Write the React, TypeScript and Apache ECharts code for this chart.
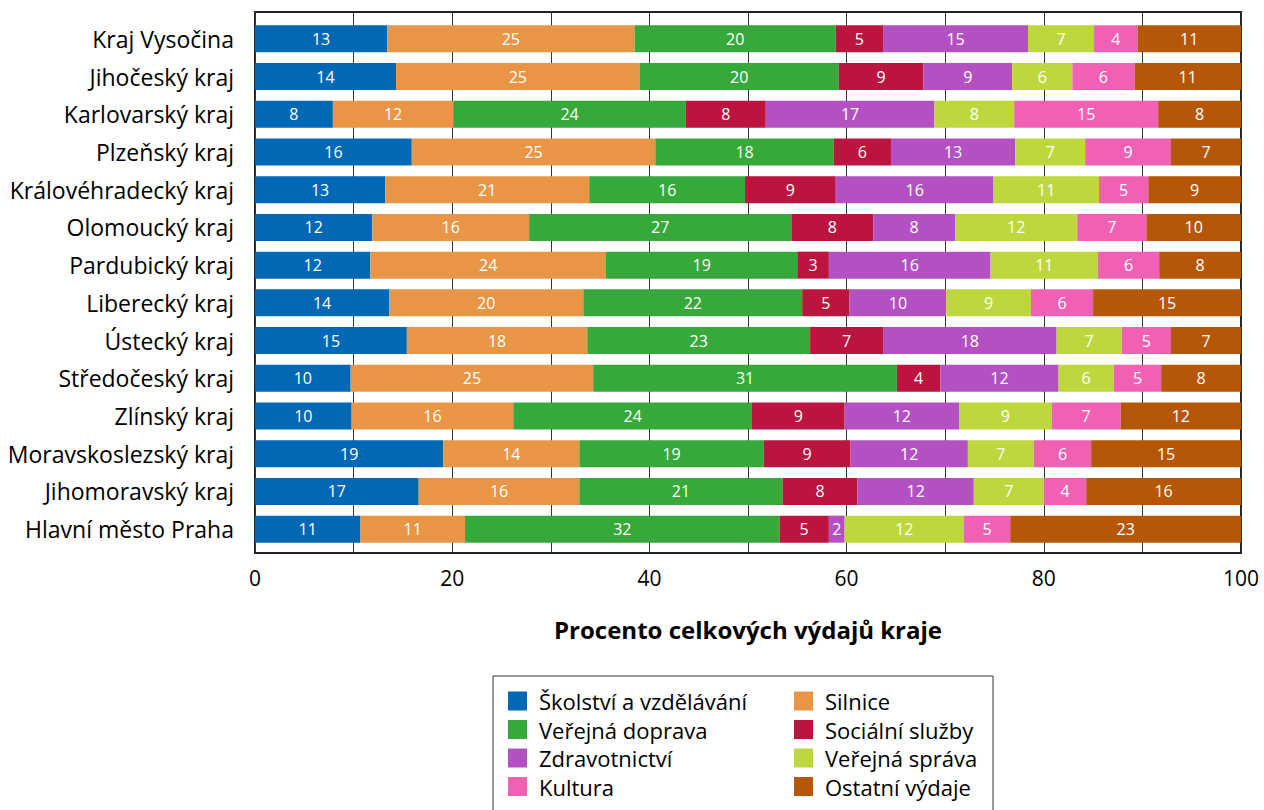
import React, { useEffect, useRef } from "react";
import * as echarts from "echarts";

const regions = [
  "Kraj Vysočina",
  "Jihočeský kraj",
  "Karlovarský kraj",
  "Plzeňský kraj",
  "Královéhradecký kraj",
  "Olomoucký kraj",
  "Pardubický kraj",
  "Liberecký kraj",
  "Ústecký kraj",
  "Středočeský kraj",
  "Zlínský kraj",
  "Moravskoslezský kraj",
  "Jihomoravský kraj",
  "Hlavní město Praha",
];

const skolstvi = [13.4, 14.3, 7.9, 15.9, 13.2, 11.9, 11.7, 13.6, 15.4, 9.7, 9.8, 19.1, 16.6, 10.7];
const silnice = [25.1, 24.7, 12.2, 24.7, 20.7, 15.9, 23.9, 19.7, 18.3, 24.6, 16.4, 13.8, 16.3, 10.6];
const doprava = [20.4, 20.2, 23.6, 18.1, 15.8, 26.6, 19.4, 22.2, 22.6, 30.8, 24.2, 18.7, 20.6, 31.9];
const socialni = [4.8, 8.6, 8.1, 5.8, 9.2, 8.3, 3.2, 4.8, 7.4, 4.4, 9.4, 8.8, 7.6, 5.0];
const zdravotnictvi = [14.7, 9.0, 17.1, 12.6, 16.0, 8.3, 16.4, 9.8, 17.6, 12.0, 11.6, 11.9, 11.8, 1.6];
const sprava = [6.7, 6.1, 8.1, 7.1, 10.7, 12.4, 10.9, 8.6, 6.6, 5.6, 9.4, 6.7, 7.1, 12.1];
const kultura = [4.4, 6.3, 14.6, 8.7, 5.0, 7.0, 6.2, 6.3, 5.0, 4.8, 7.0, 5.8, 4.3, 4.7];
const ostatni = [10.5, 10.8, 8.4, 7.1, 9.4, 9.6, 8.3, 15.0, 7.1, 8.1, 12.2, 15.2, 15.7, 23.4];

const seriesNames = [
  "Školství a vzdělávání",
  "Silnice",
  "Veřejná doprava",
  "Sociální služby",
  "Zdravotnictví",
  "Veřejná správa",
  "Kultura",
  "Ostatní výdaje",
];
const seriesData = [skolstvi, silnice, doprava, socialni, zdravotnictvi, sprava, kultura, ostatni];
const colors = ["#0068B4", "#E89645", "#36A93A", "#BB143E", "#B351C3", "#BED73D", "#F061B6", "#B55707"];

const legendLeft = ["Školství a vzdělávání", "Veřejná doprava", "Zdravotnictví", "Kultura"];
const legendRight = ["Silnice", "Sociální služby", "Veřejná správa", "Ostatní výdaje"];

const xTicks = [0, 20, 40, 60, 80, 100];
const FONT = "Open Sans";

export default function App() {
  const ref = useRef<HTMLDivElement>(null);
  useEffect(() => {
    if (!ref.current) return;
    const chart = echarts.init(ref.current, null, { renderer: "svg" });
    const legendCommon = {
      orient: "vertical",
      top: 690,
      padding: 0,
      itemWidth: 19,
      itemHeight: 19,
      itemGap: 6.5,
      icon: "rect",
      selectedMode: false,
      textStyle: {
        fontFamily: FONT,
        fontSize: 22,
        color: "#000",
        lineHeight: 22,
        padding: [0, 0, 0, 7],
      },
    };
    chart.setOption({
      animation: false,
      color: colors,
      textStyle: { fontFamily: FONT },
      grid: [
        {
          left: 255,
          right: 23,
          top: 12,
          bottom: 257,
          show: true,
          borderColor: "#222",
          borderWidth: 2,
          backgroundColor: "transparent",
        },
        { left: 255, right: 23, top: 20, bottom: 262 },
      ],
      xAxis: [
        {
          type: "value",
          gridIndex: 0,
          min: 0,
          max: 100,
          interval: 10,
          axisLine: { show: false },
          axisTick: { show: false },
          splitLine: { show: true, lineStyle: { color: "#333", width: 1 } },
          axisLabel: {
            margin: 14,
            fontSize: 21,
            fontFamily: FONT,
            color: "#000",
            formatter: (v: number) => (xTicks.includes(v) ? String(v) : ""),
          },
          name: "Procento celkových výdajů kraje",
          nameLocation: "middle",
          nameGap: 64,
          nameTextStyle: { fontFamily: FONT, fontSize: 24, fontWeight: "bold", color: "#000" },
        },
        { type: "value", gridIndex: 1, min: 0, max: 100, show: false },
      ],
      yAxis: [
        { type: "value", gridIndex: 0, show: false },
        {
          type: "category",
          gridIndex: 1,
          data: regions,
          inverse: true,
          axisLine: { show: false },
          axisTick: { show: false },
          splitLine: { show: false },
          axisLabel: { margin: 21, fontSize: 23, fontFamily: FONT, color: "#000" },
        },
      ],
      legend: [
        { ...legendCommon, left: 508, data: legendLeft },
        { ...legendCommon, left: 794, data: legendRight },
      ],
      graphic: [
        {
          type: "rect",
          shape: { x: 493, y: 676, width: 500, height: 150 },
          style: { fill: "none", stroke: "#333", lineWidth: 1 },
        },
      ],
      series: seriesNames.map((name, i) => ({
        name,
        type: "bar",
        stack: "total",
        xAxisIndex: 1,
        yAxisIndex: 1,
        barWidth: 27,
        data: seriesData[i],
        itemStyle: { color: colors[i] },
        label: {
          show: true,
          position: "inside",
          color: "#fff",
          fontSize: 16,
          fontFamily: FONT,
          formatter: (p: any) => String(Math.round(p.value)),
        },
      })),
    });
    return () => chart.dispose();
  }, []);
  return (
    <div
      ref={ref}
      style={{ position: "absolute", left: 0, top: 0, width: 1264, height: 810, background: "#fff" }}
    />
  );
}
